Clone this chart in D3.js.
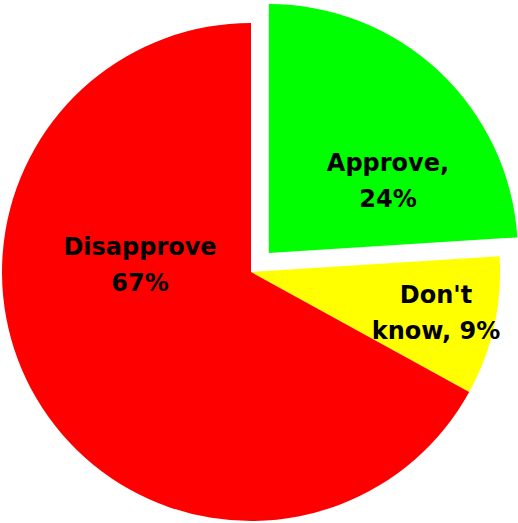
<!DOCTYPE html>
<html>
<head>
<meta charset="utf-8">
<script src="https://cdn.jsdelivr.net/npm/d3@7"></script>
<style>
  body{margin:0;background:#fff;}
  svg{display:block;}
</style>
</head>
<body>
<script>
// chart data
var categories=['Approve','Don\'t know','Disapprove'];
var values=[24,9,67];
var labelLines=[['Approve,','24%'],['Don\'t','know, 9%'],['Disapprove','67%']];
var colors=['#00ff00','#ffff00','#ff0000'];

var width=518,height=523;
var cx=251,cy=272,radius=249;
var explode=[26,0,0];
// label anchor (x,y offset from pie centre) picked to match the layout
var labelPos=[[137,-84],[185,48],[-111,0]];
var lineGap=36;

var svg=d3.select('body').append('svg')
  .attr('width',width)
  .attr('height',height);

var g=svg.append('g').attr('transform','translate('+cx+','+cy+')');

var pie=d3.pie().sort(null).value(function(d){return d;});
var arc=d3.arc().innerRadius(0).outerRadius(radius);
var arcs=pie(values);

g.selectAll('path').data(arcs).enter().append('path')
  .attr('d',arc)
  .attr('fill',function(d,i){return colors[i];})
  .attr('transform',function(d,i){
    var a=(d.startAngle+d.endAngle)/2;
    return 'translate('+(Math.sin(a)*explode[i])+','+(-Math.cos(a)*explode[i])+')';
  });

var labels=g.selectAll('text.lbl').data(arcs).enter().append('text')
  .attr('class','lbl')
  .attr('text-anchor','middle')
  .attr('font-family','"DejaVu Sans", sans-serif')
  .attr('font-weight','bold')
  .attr('font-size','24px')
  .attr('fill','#000')
  .attr('x',function(d,i){return labelPos[i][0];})
  .attr('y',function(d,i){return labelPos[i][1];});

labels.each(function(d,i){
  var t=d3.select(this);
  var lines=labelLines[i];
  lines.forEach(function(s,k){
    t.append('tspan')
      .attr('x',labelPos[i][0])
      .attr('y',labelPos[i][1]+(k-(lines.length-1)/2)*lineGap+1)
      .text(s);
  });
});
</script>
</body>
</html>
